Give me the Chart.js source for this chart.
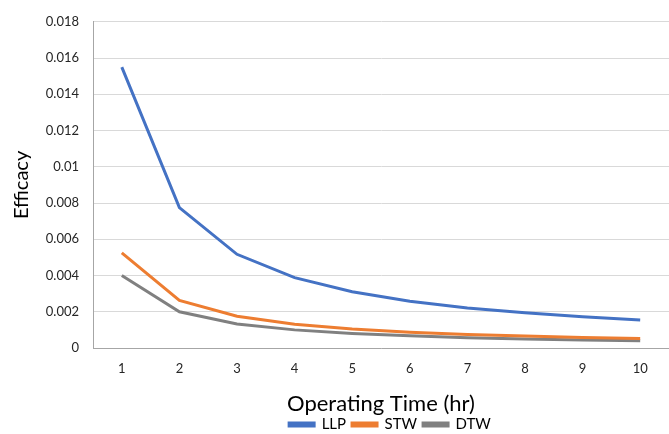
<!DOCTYPE html>
<html>
<head>
<meta charset="utf-8">
<script src="https://cdn.jsdelivr.net/npm/chart.js@4/dist/chart.umd.min.js"></script>
<style>
html,body{margin:0;padding:0;background:#fff;}
#wrap{width:669px;height:434px;position:relative;}
</style>
</head>
<body>
<div id="wrap"><canvas id="c" width="669" height="434"></canvas></div>
<script>
const categories = ['1','2','3','4','5','6','7','8','9','10'];
const llp = [0.0155, 0.00775, 0.00517, 0.00388, 0.0031, 0.00258, 0.00221, 0.00194, 0.00172, 0.00155];
const stw = [0.00525, 0.00263, 0.00175, 0.00131, 0.00105, 0.000875, 0.00075, 0.00066, 0.00058, 0.000525];
const dtw = [0.004, 0.002, 0.00133, 0.001, 0.0008, 0.00067, 0.00057, 0.0005, 0.00044, 0.0004];
const yTicks = ['0','0.002','0.004','0.006','0.008','0.01','0.012','0.014','0.016','0.018'];

const FONT = 'Lato, "Open Sans", sans-serif';
Chart.defaults.font.family = FONT;
Chart.defaults.color = '#262626';

const mk = (label, data, color) => ({
  label, data, borderColor: color, backgroundColor: color,
  borderWidth: 3, pointRadius: 0, tension: 0, fill: false
});

const legendShift = {
  id: 'legendShift',
  afterLayout(chart) {
    const lg = chart.legend;
    if (!lg) return;
    const target = 390;
    const d = target - (lg.left + lg.right) / 2;
    lg.left += d; lg.right += d;
  }
};

new Chart(document.getElementById('c'), {
  type: 'line',
  data: {
    labels: categories,
    datasets: [mk('LLP', llp, '#4472C4'), mk('STW', stw, '#ED7D31'), mk('DTW', dtw, '#808080')]
  },
  plugins: [legendShift],
  options: {
    responsive: false,
    animation: false,
    layout: { padding: { top: 12, right: 0, left: 0, bottom: -8 } },
    plugins: {
      legend: {
        position: 'bottom',
        labels: {
          boxWidth: 25, boxHeight: 3, padding: 6,
          font: { size: 15, family: FONT }, color: '#000'
        }
      },
      tooltip: { enabled: false }
    },
    scales: {
      x: {
        offset: true,
        grid: { display: false, drawTicks: false },
        border: { display: true, color: '#A6A6A6', width: 1 },
        ticks: { font: { size: 13 }, color: '#262626', padding: 13 },
        title: { display: true, text: 'Operating Time (hr)', font: { size: 22 }, color: '#000', padding: { top: 1, bottom: -6 } }
      },
      y: {
        min: 0, max: 0.018,
        afterFit: (s) => { s.width = 93; },
        grid: { color: '#D9D9D9', lineWidth: 1, drawTicks: false },
        border: { display: true, color: '#A6A6A6', width: 1 },
        ticks: {
          stepSize: 0.002, padding: 14, font: { size: 13 }, color: '#262626',
          callback: (v, i) => yTicks[i]
        },
        title: { display: true, text: 'Efficacy', font: { size: 20 }, color: '#000', padding: { top: 10, bottom: 4 } }
      }
    }
  }
});
</script>
</body>
</html>
